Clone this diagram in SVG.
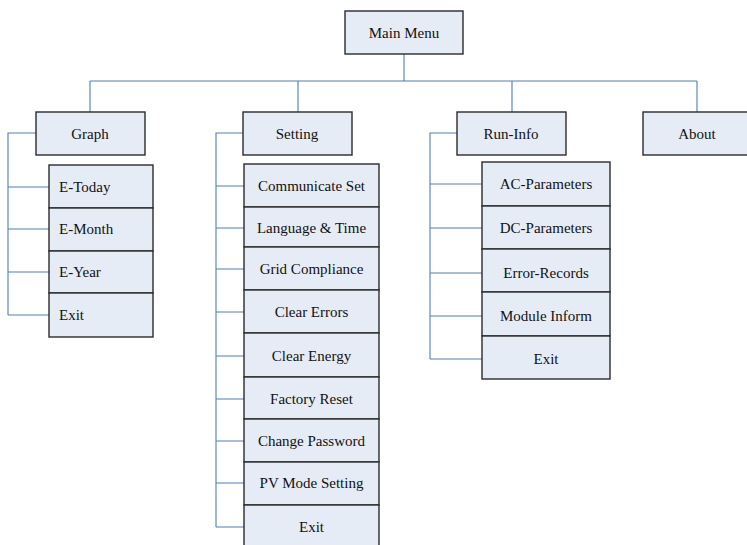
<svg xmlns="http://www.w3.org/2000/svg" width="747" height="545" viewBox="0 0 747 545">
<style>
rect{fill:#E6ECF6;stroke:#2b2b2b;stroke-width:1.4}
text{font-family:"Liberation Serif","Times New Roman",serif;font-size:15px;fill:#111;text-anchor:middle}
text.l{text-anchor:start}
#connectors path{fill:none;stroke:#4F7CC0;stroke-width:1.1}
</style>
<rect x="0" y="0" width="747" height="545" style="fill:#fff;stroke:none"/>
<g id="connectors">
<path d="M404 54V81M90 81H697M90 81V112M298 81V112M512 81V112M697 81V112"/>
<path d="M36 133H8V315M8 187H49M8 229H49M8 272H49M8 315H49"/>
<path d="M243 133H216V527M216 186H244M216 228H244M216 269H244M216 312H244M216 356H244M216 399H244M216 441H244M216 483H244M216 527H244"/>
<path d="M457 133H430V359M430 184H482M430 228H482M430 273H482M430 316H482M430 359H482"/>
</g>
<g id="main-menu"><rect x="345" y="11" width="118" height="43"/><text x="404" y="38">Main Menu</text></g>
<g id="graph"><rect x="36" y="112" width="109" height="43"/><text x="90" y="139">Graph</text></g>
<g id="setting"><rect x="243" y="112" width="109" height="43"/><text x="297" y="139">Setting</text></g>
<g id="run-info"><rect x="457" y="112" width="109" height="43"/><text x="511" y="139">Run-Info</text></g>
<g id="about"><rect x="643" y="112" width="109" height="43"/><text x="697" y="139">About</text></g>
<g id="e-today"><rect x="49" y="165" width="104" height="43"/><text class="l" x="59" y="192">E-Today</text></g>
<g id="e-month"><rect x="49" y="208" width="104" height="43"/><text class="l" x="59" y="234">E-Month</text></g>
<g id="e-year"><rect x="49" y="251" width="104" height="42"/><text class="l" x="59" y="277">E-Year</text></g>
<g id="graph-exit"><rect x="49" y="293" width="104" height="44"/><text class="l" x="59" y="320">Exit</text></g>
<g id="communicate-set"><rect x="244" y="164" width="135" height="43"/><text x="311.5" y="191">Communicate Set</text></g>
<g id="language-time"><rect x="244" y="207" width="135" height="40"/><text x="311.5" y="233">Language &amp; Time</text></g>
<g id="grid-compliance"><rect x="244" y="247" width="135" height="43"/><text x="311.5" y="274">Grid Compliance</text></g>
<g id="clear-errors"><rect x="244" y="290" width="135" height="43"/><text x="311.5" y="317">Clear Errors</text></g>
<g id="clear-energy"><rect x="244" y="333" width="135" height="44"/><text x="311.5" y="361">Clear Energy</text></g>
<g id="factory-reset"><rect x="244" y="377" width="135" height="42"/><text x="311.5" y="404">Factory Reset</text></g>
<g id="change-password"><rect x="244" y="419" width="135" height="43"/><text x="311.5" y="446">Change Password</text></g>
<g id="pv-mode-setting"><rect x="244" y="462" width="135" height="43"/><text x="311.5" y="488">PV Mode Setting</text></g>
<g id="setting-exit"><rect x="244" y="505" width="135" height="43"/><text x="311.5" y="532">Exit</text></g>
<g id="ac-parameters"><rect x="482" y="162" width="128" height="44"/><text x="546" y="189">AC-Parameters</text></g>
<g id="dc-parameters"><rect x="482" y="206" width="128" height="43"/><text x="546" y="233">DC-Parameters</text></g>
<g id="error-records"><rect x="482" y="249" width="128" height="43"/><text x="546" y="278">Error-Records</text></g>
<g id="module-inform"><rect x="482" y="292" width="128" height="44"/><text x="546" y="321">Module Inform</text></g>
<g id="runinfo-exit"><rect x="482" y="336" width="128" height="43"/><text x="546" y="364">Exit</text></g>
</svg>
